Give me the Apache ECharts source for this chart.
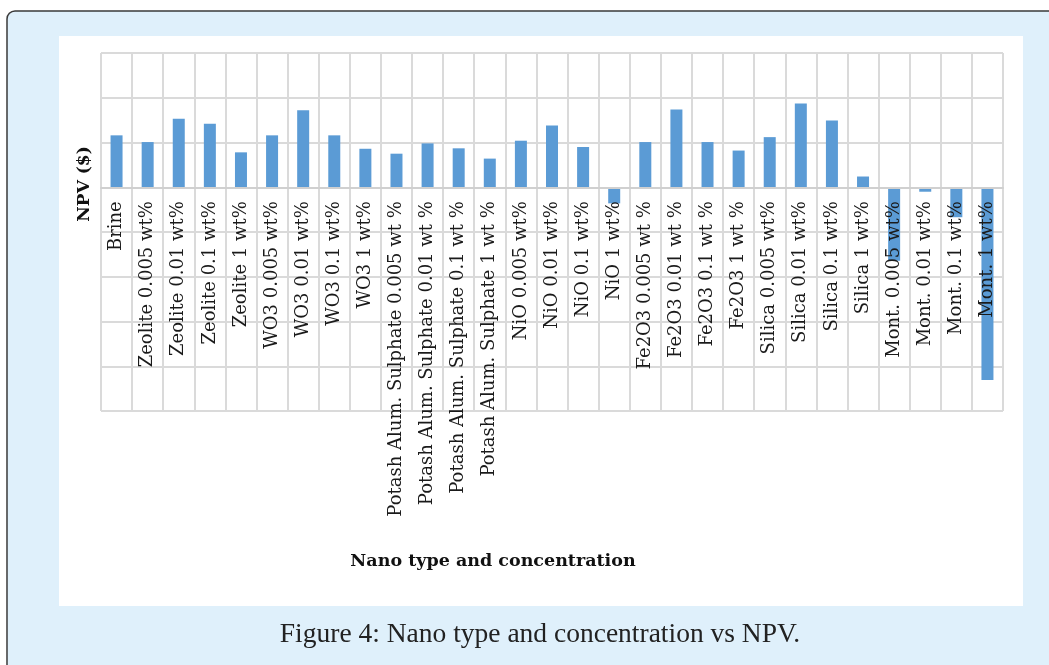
<!DOCTYPE html>
<html>
<head>
<meta charset="utf-8">
<title>Nano type and concentration vs NPV</title>
<script src="https://cdn.jsdelivr.net/npm/echarts@6/dist/echarts.min.js"></script>
<style>
  html, body { margin: 0; padding: 0; background: #fff; }
  #chart { width: 1049px; height: 665px; }
</style>
</head>
<body>
<div id="chart"></div>
<script>
// categories (x axis)
const categories = [
  'Brine',
  'Zeolite 0.005 wt%', 'Zeolite 0.01 wt%', 'Zeolite 0.1 wt%', 'Zeolite 1 wt%',
  'WO3 0.005 wt%', 'WO3 0.01 wt%', 'WO3 0.1 wt%', 'WO3 1 wt%',
  'Potash Alum. Sulphate 0.005 wt %', 'Potash Alum. Sulphate 0.01 wt %',
  'Potash Alum. Sulphate 0.1 wt %', 'Potash Alum. Sulphate 1 wt %',
  'NiO 0.005 wt%', 'NiO 0.01 wt%', 'NiO 0.1 wt%', 'NiO 1 wt%',
  'Fe2O3 0.005 wt %', 'Fe2O3 0.01 wt %', 'Fe2O3 0.1 wt %', 'Fe2O3 1 wt %',
  'Silica 0.005 wt%', 'Silica 0.01 wt%', 'Silica 0.1 wt%', 'Silica 1 wt%',
  'Mont. 0.005 wt%', 'Mont. 0.01 wt%', 'Mont. 0.1 wt%', 'Mont. 1 wt%'
]
// NPV values (axis has no labels, read in grid units)
const npvValues = [
  1.16,
  1.01, 1.53, 1.42, 0.78,
  1.16, 1.72, 1.16, 0.86,
  0.75, 0.98, 0.87, 0.64,
  1.04, 1.38, 0.90, -0.36,
  1.01, 1.74, 1.01, 0.82,
  1.12, 1.87, 1.49, 0.24,
  -1.64, -0.10, -0.67, -4.31
]
const yMin = -5
const yMax = 3
const yStep = 1

const gridTop = 53
const gridBottom = 254
const gridHeight = 665 - gridTop - gridBottom
// move the category axis (line + labels) up to the zero line
const zeroOffset = -gridHeight * (0 - yMin) / (yMax - yMin)

const chart = echarts.init(document.getElementById('chart'))

const option = {
  backgroundColor: '#ffffff',
  animation: false,
  graphic: [
    // outer light blue box
    {
      type: 'rect',
      z: -10,
      silent: true,
      shape: { x: 7, y: 11, width: 1100, height: 700, r: 8 },
      style: { fill: '#dff0fb', stroke: '#3a3a3a', lineWidth: 1.5 }
    },
    // white panel
    {
      type: 'rect',
      z: -9,
      silent: true,
      shape: { x: 59, y: 36, width: 964, height: 570 },
      style: { fill: '#ffffff' }
    },
    {
      type: 'text',
      x: 85,
      y: 184,
      rotation: Math.PI / 2,
      style: {
        text: 'NPV ($)',
        fontFamily: 'DejaVu Serif',
        fontWeight: 'bold',
        fontSize: 17,
        fill: '#111',
        align: 'center',
        verticalAlign: 'middle'
      }
    },
    {
      type: 'text',
      x: 493,
      y: 561,
      style: {
        text: 'Nano type and concentration',
        fontFamily: 'DejaVu Serif',
        fontWeight: 'bold',
        fontSize: 17.5,
        fill: '#111',
        align: 'center',
        verticalAlign: 'middle'
      }
    },
    {
      type: 'text',
      x: 540,
      y: 635,
      style: {
        text: 'Figure 4: Nano type and concentration vs NPV.',
        fontFamily: 'Liberation Serif',
        fontSize: 27.5,
        fill: '#222',
        align: 'center',
        verticalAlign: 'middle'
      }
    }
  ],
  grid: {
    left: 101,
    right: 46,
    top: gridTop,
    bottom: gridBottom,
    outerBoundsMode: 'none',
    containLabel: false
  },
  xAxis: {
    type: 'category',
    data: categories,
    offset: zeroOffset,
    z: 10,
    axisLine: {
      onZero: false,
      lineStyle: { color: '#d0d0d0', width: 2 }
    },
    axisTick: { show: false },
    axisLabel: {
      interval: 0,
      rotate: 90,
      margin: 14,
      fontFamily: 'DejaVu Serif',
      fontSize: 18,
      color: '#1a1a1a'
    },
    splitLine: {
      show: true,
      interval: 0,
      lineStyle: { color: '#dadada', width: 2 }
    }
  },
  yAxis: {
    type: 'value',
    min: yMin,
    max: yMax,
    interval: yStep,
    axisLine: { show: false },
    axisTick: { show: false },
    axisLabel: { show: false },
    splitLine: {
      show: true,
      lineStyle: { color: '#dadada', width: 2 }
    }
  },
  series: [{
    type: 'bar',
    data: npvValues,
    barWidth: 12,
    itemStyle: { color: '#5b9bd5' },
    z: 1
  }]
}

chart.setOption(option)
</script>
</body>
</html>
